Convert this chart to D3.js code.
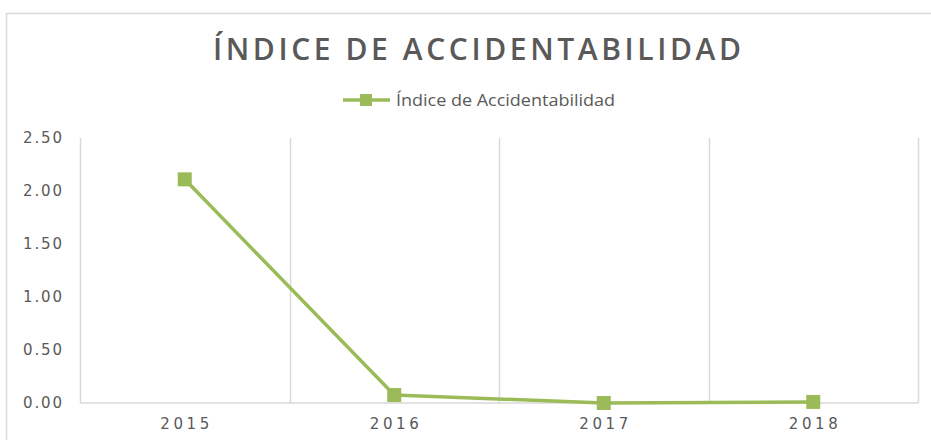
<!DOCTYPE html>
<html>
<head>
<meta charset="utf-8">
<script src="https://cdn.jsdelivr.net/npm/d3@7"></script>
<style>
  html, body { margin: 0; padding: 0; background: #ffffff; }
  svg { display: block; }
</style>
</head>
<body>
<svg id="chart" width="931" height="440"></svg>
<script>
// Accident index per year
const years = ["2015", "2016", "2017", "2018"];
const indexValues = [2.11, 0.075, 0.0, 0.01];
const yTicks = [0, 0.5, 1.0, 1.5, 2.0, 2.5];
const chartTitle = "ÍNDICE DE ACCIDENTABILIDAD";
const seriesName = "Índice de Accidentabilidad";

const W = 931, H = 440;
const margin = { left: 80, right: 13, top: 138, bottom: 37 };
const green = "#9BBB59";
const textColor = "#595959";
const gridColor = "#d9d9d9";

const svg = d3.select("#chart");

// outer chart frame
svg.append("rect")
  .attr("x", 6.5).attr("y", 13.5)
  .attr("width", W + 10).attr("height", H + 10)
  .attr("fill", "#fff").attr("stroke", "#d9d9d9").attr("stroke-width", 1.5);

const x = d3.scaleBand().domain(years)
  .range([margin.left, W - margin.right]).padding(0);
const y = d3.scaleLinear().domain([0, 2.5])
  .range([H - margin.bottom, margin.top]);

// title
svg.append("text")
  .attr("x", 477).attr("y", 60)
  .attr("text-anchor", "middle")
  .attr("font-family", "'Open Sans', sans-serif")
  .attr("font-weight", 600)
  .attr("font-size", 30)
  .attr("textLength", 528)
  .attr("lengthAdjust", "spacing")
  .attr("fill", textColor)
  .text(chartTitle);

// legend
const lg = svg.append("g");
lg.append("line").attr("x1", 343).attr("x2", 390).attr("y1", 100).attr("y2", 100)
  .attr("stroke", green).attr("stroke-width", 3.5);
lg.append("rect").attr("x", 360).attr("y", 94).attr("width", 12).attr("height", 12)
  .attr("fill", green);
lg.append("text").attr("x", 396).attr("y", 105.5)
  .attr("font-family", "'Open Sans', sans-serif")
  .attr("font-size", 16)
  .attr("textLength", 219)
  .attr("lengthAdjust", "spacingAndGlyphs")
  .attr("fill", textColor)
  .text(seriesName);

// vertical gridlines at category boundaries
const bounds = years.map(d => x(d)).concat([x(years[years.length - 1]) + x.bandwidth()]);
svg.append("g").selectAll("line").data(bounds).join("line")
  .attr("x1", d => Math.round(d) + 0.5).attr("x2", d => Math.round(d) + 0.5)
  .attr("y1", y(2.5)).attr("y2", y(0))
  .attr("stroke", gridColor).attr("stroke-width", 1.5);

// baseline axis
svg.append("line")
  .attr("x1", margin.left).attr("x2", W - margin.right)
  .attr("y1", y(0)).attr("y2", y(0))
  .attr("stroke", gridColor).attr("stroke-width", 1.5);

// y axis labels
const yAxis = d3.axisLeft(y).tickValues(yTicks).tickFormat(d3.format(".2f")).tickSize(0).tickPadding(0);
const yg = svg.append("g").attr("transform", `translate(23,0)`).call(yAxis);
yg.select(".domain").remove();
yg.selectAll("text")
  .attr("text-anchor", "start")
  .attr("font-family", "Verdana, 'DejaVu Sans', sans-serif")
  .attr("font-size", 15)
  .attr("textLength", 39)
  .attr("lengthAdjust", "spacing")
  .attr("fill", textColor);

// x axis labels
const xAxis = d3.axisBottom(x).tickSize(0).tickPadding(0);
const xg = svg.append("g").attr("transform", `translate(0,${y(0) + 15})`).call(xAxis);
xg.select(".domain").remove();
xg.selectAll("text")
  .attr("font-family", "Verdana, 'DejaVu Sans', sans-serif")
  .attr("font-size", 15)
  .attr("textLength", 49)
  .attr("lengthAdjust", "spacing")
  .attr("fill", textColor);

// series line
const pts = years.map((d, i) => [x(d) + x.bandwidth() / 2, y(indexValues[i])]);
svg.append("path")
  .attr("d", d3.line()(pts))
  .attr("fill", "none")
  .attr("stroke", green)
  .attr("stroke-width", 3.5)
  .attr("stroke-linejoin", "round");

// markers
const ms = 14;
svg.append("g").selectAll("rect").data(pts).join("rect")
  .attr("x", d => d[0] - ms / 2).attr("y", d => d[1] - ms / 2)
  .attr("width", ms).attr("height", ms)
  .attr("fill", green);
</script>
</body>
</html>
